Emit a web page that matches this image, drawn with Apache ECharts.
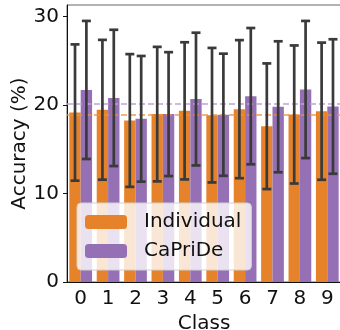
<!DOCTYPE html>
<html style="height: 100%">
<head>
	<meta charset="utf-8">
</head>
<body style="height: 100%; margin: 0">
<div id="container" style="width: 340px; height: 330px"></div>
<script type="text/javascript" src="https://cdn.jsdelivr.net/npm/echarts@6/dist/echarts.min.js"></script>
<script type="text/javascript">
    var classes = ['0', '1', '2', '3', '4', '5', '6', '7', '8', '9'];
    var individualAcc = [19.15, 19.46, 18.25, 18.97, 19.34, 18.85, 19.53, 17.6, 18.93, 19.3];
    var individualStd = [7.7, 7.9, 7.5, 7.6, 7.75, 7.6, 7.8, 7.1, 7.8, 7.75];
    var capriAcc = [21.7, 20.8, 18.44, 18.97, 20.67, 18.9, 21.0, 19.8, 21.75, 19.83];
    var capriStd = [7.8, 7.7, 7.1, 7.0, 7.5, 6.9, 7.7, 7.4, 7.75, 7.6];
    var yTicks = [0, 10, 20, 30];

    var font = 'DejaVu Sans';
    var orange = '#e6832a';
    var purple = '#9570b4';

    var dom = document.getElementById("container");
    var myChart = echarts.init(dom);

    // error bars drawn as a custom series, shifted to the centre of each bar
    function errorBars(offsetFrac) {
        return function (params, api) {
            var x = api.value(0), m = api.value(1), e = api.value(2);
            var band = api.size([1, 0])[0];
            var top = api.coord([x, m + e]);
            var bot = api.coord([x, m - e]);
            var cx = top[0] + band * offsetFrac;
            var hw = 4.5;
            var style = {stroke: '#3a3a3a', lineWidth: 2.7};
            return {
                type: 'group',
                children: [
                    {type: 'line', shape: {x1: cx, y1: top[1], x2: cx, y2: bot[1]}, style: style},
                    {type: 'line', shape: {x1: cx - hw, y1: top[1], x2: cx + hw, y2: top[1]}, style: style},
                    {type: 'line', shape: {x1: cx - hw, y1: bot[1], x2: cx + hw, y2: bot[1]}, style: style}
                ]
            };
        };
    }

    function meanLine(color) {
        return {
            silent: true,
            symbol: 'none',
            label: {show: false},
            lineStyle: {color: color, type: [6, 3], width: 1.5},
            data: [{type: 'average'}]
        };
    }

    var option = {
        animation: false,
        grid: {
            left: 67, right: -1, top: 5, bottom: 48,
            outerBoundsMode: 'none',
            show: true, borderColor: '#666', borderWidth: 1
        },
        legend: {
            data: ['Individual', 'CaPriDe'],
            orient: 'vertical',
            left: 77,
            top: 203,
            itemWidth: 42,
            itemHeight: 14,
            itemGap: 9,
            padding: [9, 10, 9, 8],
            backgroundColor: 'rgba(255,255,255,0.8)',
            borderColor: '#d0d0d0',
            borderWidth: 1,
            borderRadius: 4,
            textStyle: {fontFamily: font, fontSize: 20, color: '#111', padding: [0, 0, 0, 12]}
        },
        xAxis: {
            type: 'category',
            data: classes,
            name: 'Class',
            nameLocation: 'middle',
            nameGap: 32,
            nameTextStyle: {fontFamily: font, fontSize: 20, color: '#111'},
            axisLine: {lineStyle: {color: '#111'}},
            axisTick: {alignWithLabel: true, length: 4, lineStyle: {color: '#111'}},
            axisLabel: {fontFamily: font, fontSize: 20, color: '#111', margin: 7}
        },
        yAxis: {
            type: 'value',
            min: 0,
            max: 31.3,
            interval: 10,
            name: 'Accuracy (%)',
            nameLocation: 'middle',
            nameGap: 37,
            nameMoveOverlap: false,
            nameTextStyle: {fontFamily: font, fontSize: 20, color: '#111'},
            splitLine: {show: false},
            axisLine: {show: true, lineStyle: {color: '#111'}},
            axisTick: {show: true, length: 4, lineStyle: {color: '#111'}, customValues: yTicks},
            axisLabel: {fontFamily: font, fontSize: 20, color: '#111', margin: 8, customValues: yTicks}
        },
        series: [
            {
                name: 'Individual',
                type: 'bar',
                data: individualAcc,
                barWidth: '41.5%',
                barGap: '0%',
                itemStyle: {color: orange},
                markLine: meanLine('rgba(242,145,60,0.9)')
            },
            {
                name: 'CaPriDe',
                type: 'bar',
                data: capriAcc,
                barWidth: '41.5%',
                barGap: '0%',
                itemStyle: {color: purple},
                markLine: meanLine('#bea3dc')
            },
            {
                type: 'custom',
                renderItem: errorBars(-0.2075),
                data: individualAcc.map(function (v, i) { return [i, v, individualStd[i]]; }),
                z: 5
            },
            {
                type: 'custom',
                renderItem: errorBars(0.2075),
                data: capriAcc.map(function (v, i) { return [i, v, capriStd[i]]; }),
                z: 5
            }
        ]
    };

    myChart.setOption(option);
</script>
</body>
</html>
